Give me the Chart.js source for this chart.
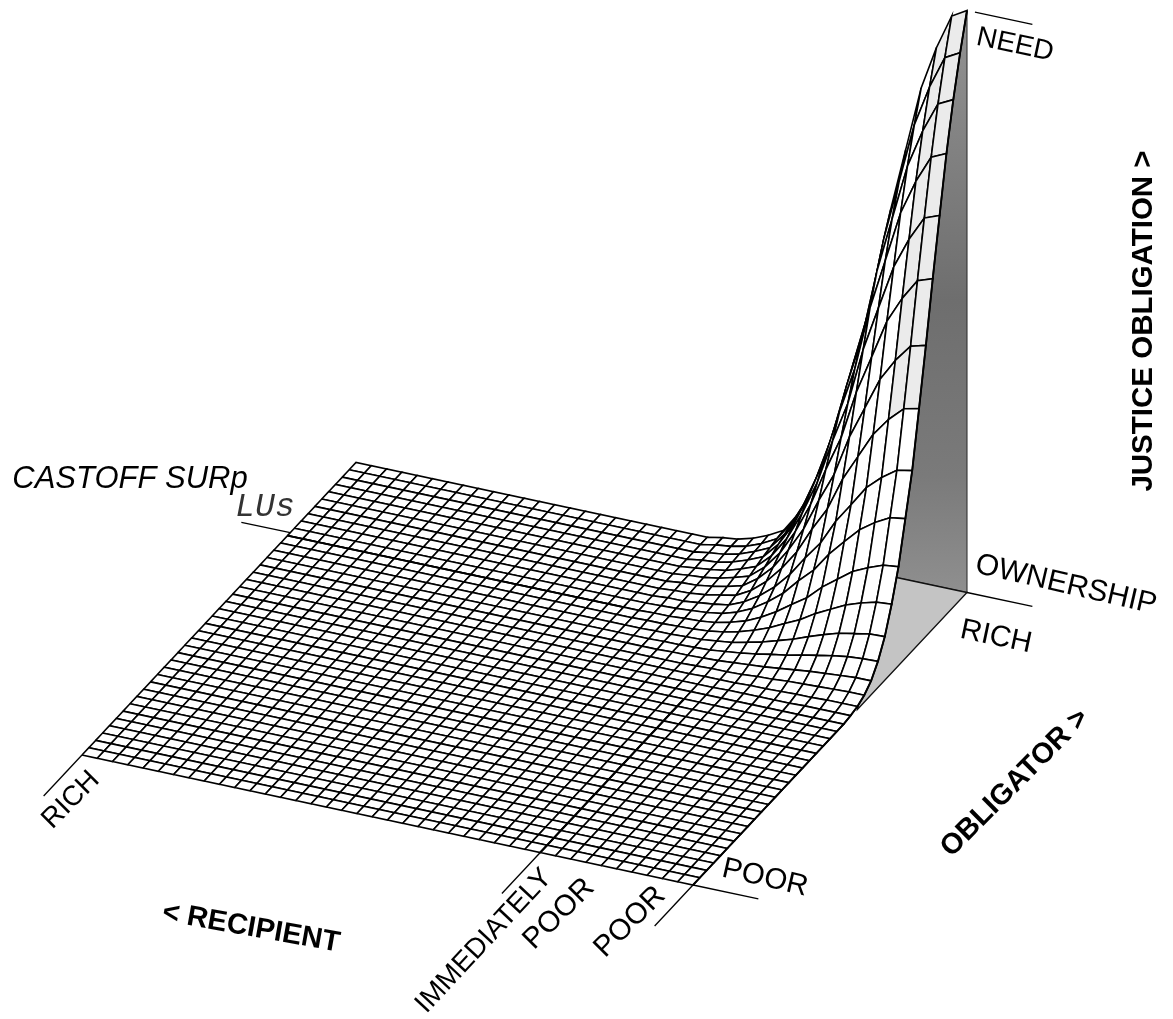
<!DOCTYPE html>
<html>
<head>
<meta charset="utf-8">
<style>html,body{margin:0;padding:0;background:#fff;overflow:hidden}canvas{display:block}</style>
<script src="https://cdn.jsdelivr.net/npm/chart.js@4"></script>
</head>
<body>
<canvas id="c" width="1173" height="1019"></canvas>
<script>
// ---- DATA: justice-obligation height, 0..1 ----
const recipientCells = 40;          // cells along < RECIPIENT
const obligatorCells = 40;          // cells along OBLIGATOR >
const firstRaisedColumn = 24;       // columns before this are flat at 0
const firstRaisedRow = 23;          // rows before this are flat at 0
const row23=[0,0,0,0,0,0,0,0,.001,.001,.001,.001,.001,.002,.002,.002,.002];
const row24=[0,0,0,0,0,0,.001,.001,.001,.002,.002,.003,.004,.004,.005,.005,.005];
const row25=[0,0,0,0,0,.001,.002,.002,.003,.005,.006,.008,.009,.010,.011,.012,.012];
const row26=[0,0,0,.001,.001,.002,.003,.005,.007,.009,.012,.015,.018,.020,.022,.024,.024];
const row27=[0,0,.001,.001,.002,.003,.006,.009,.013,.018,.022,.028,.033,.038,.042,.044,.045];
const row28=[0,.001,.001,.002,.003,.006,.009,.015,.021,.029,.037,.047,.056,.064,.069,.074,.075];
const row29=[.001,.001,.002,.003,.005,.009,.015,.023,.033,.046,.058,.074,.087,.100,.109,.116,.118];
const row30=[.001,.001,.003,.004,.007,.013,.021,.033,.048,.066,.083,.107,.126,.145,.157,.167,.170];
const row31=[.001,.002,.004,.006,.010,.018,.030,.047,.067,.094,.118,.151,.178,.204,.222,.236,.240];
const row32=[.002,.002,.005,.008,.012,.023,.039,.060,.087,.121,.152,.195,.229,.264,.287,.305,.310];
const row33=[.002,.003,.006,.011,.016,.030,.051,.079,.113,.158,.198,.255,.299,.343,.374,.398,.404];
const row34=[.003,.004,.008,.013,.020,.038,.063,.098,.140,.195,.245,.315,.370,.425,.463,.493,.500];
const row35=[.003,.005,.009,.016,.024,.045,.075,.117,.169,.235,.295,.379,.445,.512,.557,.593,.602];
const row36=[.003,.006,.010,.018,.028,.052,.087,.136,.195,.272,.342,.440,.517,.593,.646,.688,.698];
const row37=[.004,.006,.012,.021,.032,.059,.099,.154,.222,.309,.388,.499,.586,.673,.733,.780,.792];
const row38=[.004,.007,.013,.023,.035,.065,.109,.170,.244,.340,.427,.549,.645,.741,.807,.859,.872];
const row39=[.005,.008,.014,.024,.038,.071,.118,.183,.263,.367,.461,.592,.696,.799,.870,.926,.940];
const row40=[.005,.008,.015,.026,.040,.075,.125,.195,.280,.390,.490,.630,.740,.850,.925,.985,1];
const raisedRows=[row23,row24,row25,row26,row27,row28,row29,row30,row31,row32,row33,row34,row35,row36,row37,row38,row39,row40];

// axis positions on the 0..1 surface: [recipient, obligator, height] end points
const axisTicks=[
  [[1,0,0],[1.107,0,0]],      // POOR (obligator)
  [[1,0,0],[1,-.14,0]],       // POOR (recipient)
  [[0,0,0],[0,-.14,0]],       // RICH (recipient)
  [[.75,0,0],[.75,-.14,0]],   // IMMEDIATELY POOR
  [[0,.76,0],[-.08,.76,0]],   // CASTOFF SURpLUs
  [[1,1,0],[1.107,1,0]],      // RICH / OWNERSHIP
  [[1.013,1,1],[1.107,1,1]]   // NEED
];
const labelTexts=["NEED","OWNERSHIP","RICH","POOR","POOR","IMMEDIATELY","POOR","RICH","< RECIPIENT","OBLIGATOR >","JUSTICE OBLIGATION >","CASTOFF SURp","LUs"];

// ---- VIEW ----
const labelLayout=[
  {x:1015,y:45,r:12,f:'28px "Liberation Sans"'},
  {x:1066,y:585,r:13,f:'30px "Liberation Sans"'},
  {x:996,y:637,r:12,f:'29.5px "Liberation Sans"'},
  {x:765,y:878,r:13,f:'29.5px "Liberation Sans"'},
  {x:630,y:922,r:-45,f:'29.5px "Liberation Sans"'},
  {x:484,y:941,r:-47,f:'28px "Liberation Sans"'},
  {x:559,y:914,r:-45,f:'29.5px "Liberation Sans"'},
  {x:71,y:800,r:-45,f:'28px "Liberation Sans"'},
  {x:251,y:928,r:10,f:'bold 29px "Liberation Sans"'},
  {x:1015,y:783,r:-45,f:'bold 29px "Liberation Sans"'},
  {x:1144,y:321,r:-90,f:'bold 29.5px "Liberation Sans"'},
  {x:130,y:479,r:0,f:'italic 31px "Liberation Sans"'},
  {x:265,y:507,r:0,f:'italic 33px "Liberation Mono"',c:"#333"}
];
const origin={x:82,y:755}, uVec={x:611,y:130}, vVec={x:274,y:-292.5}, heightPx=582;
function project(u,v,z){return {x:origin.x+u*uVec.x+v*vVec.x, y:origin.y+u*uVec.y+v*vVec.y-z*heightPx};}
function height(i,j){const r=raisedRows[j-firstRaisedRow];return (!r||i<firstRaisedColumn)?0:r[i-firstRaisedColumn];}
function node(i,j){return project(i/recipientCells,j/obligatorCells,height(i,j));}

const ctx=document.getElementById('c').getContext('2d');
const wallGrad=ctx.createLinearGradient(0,10,0,592);
wallGrad.addColorStop(0,'#939393');wallGrad.addColorStop(.5,'#6e6e6e');wallGrad.addColorStop(.8,'#7a7a7a');wallGrad.addColorStop(1,'#8f8f8f');

const line=(data,w,color)=>({data,showLine:true,borderColor:color||'#000',borderWidth:w,pointRadius:0,fill:false,tension:0});
const datasets=[];
// emphasised grid lines on the flat part, and the surface's right edge
const hi1=[],hi2=[],edge=[];
for(let j=0;j<=21;j++)hi1.push(node(30,j));
for(let i=0;i<=22;i++)hi2.push(node(i,30));
for(let j=0;j<=obligatorCells;j++)edge.push(node(recipientCells,j));
datasets.push(line(hi1,2.1),line(hi2,1.9),line(edge,1.9));
// axis ticks
axisTicks.forEach(t=>datasets.push(line(t.map(p=>project(p[0],p[1],p[2])),1.3)));
// surface cells, front first (first dataset is painted last)
for(let j=0;j<obligatorCells;j++){
  for(let i=recipientCells-1;i>=0;i--){
    const shaded=i>=38&&j>=33;
    datasets.push({
      data:[node(i,j),node(i+1,j),node(i+1,j+1),node(i,j+1),node(i,j)],
      showLine:true,borderColor:'#000',borderWidth:1.6,pointRadius:0,tension:0,
      fill:'shape',backgroundColor:shaded?'#ebebeb':'#fff'
    });
  }
}
// floor and back wall behind the surface
datasets.push({data:[project(.85,1,0),project(1,1,0),project(1,.6,0),project(.85,1,0)],showLine:true,borderColor:'#111',borderWidth:1.4,pointRadius:0,tension:0,fill:'shape',backgroundColor:'#c4c4c4'});
datasets.push({data:[project(.85,1,0),project(1,1,0),project(1,1,1),project(.85,1,0)],showLine:true,borderColor:'#333',borderWidth:1.1,pointRadius:0,tension:0,fill:'shape',backgroundColor:wallGrad});

const labelPlugin={id:'labels',afterDraw(chart){
  const c=chart.ctx;
  labelTexts.forEach((t,k)=>{const l=labelLayout[k];
    c.save();c.translate(l.x,l.y);c.rotate(l.r*Math.PI/180);
    c.font=l.f;c.fillStyle=l.c||'#000';c.textAlign='center';c.textBaseline='middle';
    c.fillText(t,0,0);c.restore();});
}};
new Chart(ctx,{type:'scatter',data:{datasets},plugins:[labelPlugin],options:{
  responsive:false,animation:false,events:[],
  layout:{padding:0},
  plugins:{legend:{display:false},tooltip:{enabled:false},title:{display:false}},
  scales:{x:{type:'linear',min:0,max:1173,display:false},y:{type:'linear',min:0,max:1019,reverse:true,display:false}}
}});
</script>
</body>
</html>
